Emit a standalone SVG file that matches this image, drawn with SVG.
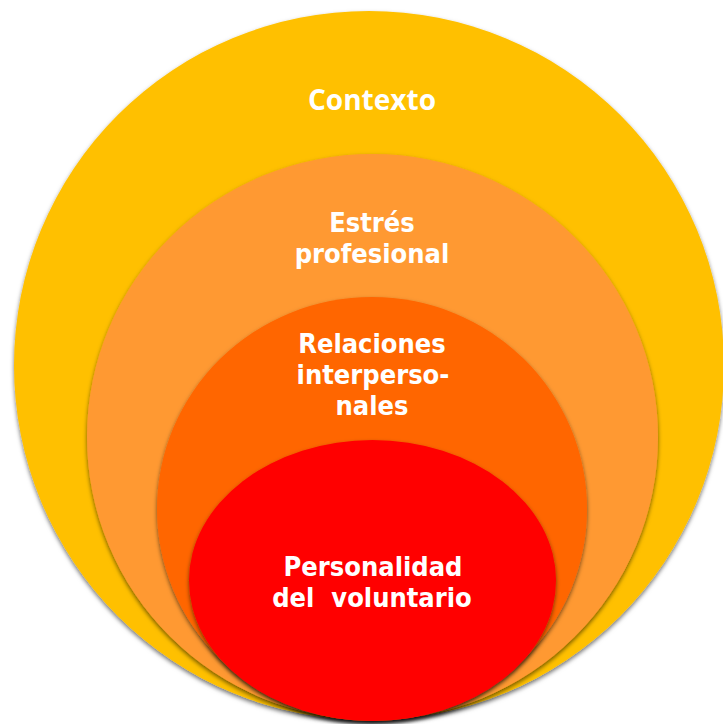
<svg xmlns="http://www.w3.org/2000/svg" width="723" height="724" viewBox="0 0 723 724">
  <defs>
    <filter id="shadow" x="-10%" y="-10%" width="120%" height="125%">
      <feDropShadow dx="0" dy="2.5" stdDeviation="2" flood-color="#000" flood-opacity="0.55"/>
    </filter>
    <style>
      .ring { filter: url(#shadow); }
      .lbl { fill: #fff; font-family: "DejaVu Sans Condensed", "DejaVu Sans", sans-serif; font-stretch: condensed; font-weight: bold; font-size: 27px; text-anchor: middle; white-space: pre; }
      .top { font-family: "Open Sans", "Noto Sans", sans-serif; font-stretch: normal; font-weight: bold; font-size: 28px; }
    </style>
  </defs>
  <rect width="723" height="724" fill="#fff"/>

  <!-- outermost layer -->
  <g id="contexto">
    <ellipse class="ring" cx="369" cy="365.5" rx="355" ry="354.5" fill="#FFC000"/>
    <text class="lbl top" x="372" y="110">Contexto</text>
  </g>

  <g id="estres">
    <ellipse class="ring" cx="372.5" cy="437" rx="285.5" ry="283" fill="#FF9933"/>
    <text class="lbl" x="372" y="232">Estrés</text>
    <text class="lbl" x="372" y="263">profesional</text>
  </g>

  <g id="relaciones">
    <ellipse class="ring" cx="372" cy="509" rx="215" ry="212" fill="#FF6600"/>
    <text class="lbl" x="372" y="353">Relaciones</text>
    <text class="lbl" x="373" y="384">interperso-</text>
    <text class="lbl" x="372" y="415">nales</text>
  </g>

  <!-- innermost layer -->
  <g id="personalidad">
    <ellipse class="ring" cx="372.5" cy="580.5" rx="183.5" ry="140.5" fill="#FF0000"/>
    <text class="lbl" x="373" y="576">Personalidad</text>
    <text class="lbl" x="372" y="607">del  voluntario</text>
  </g>

  <g id="connectors"/>
</svg>
